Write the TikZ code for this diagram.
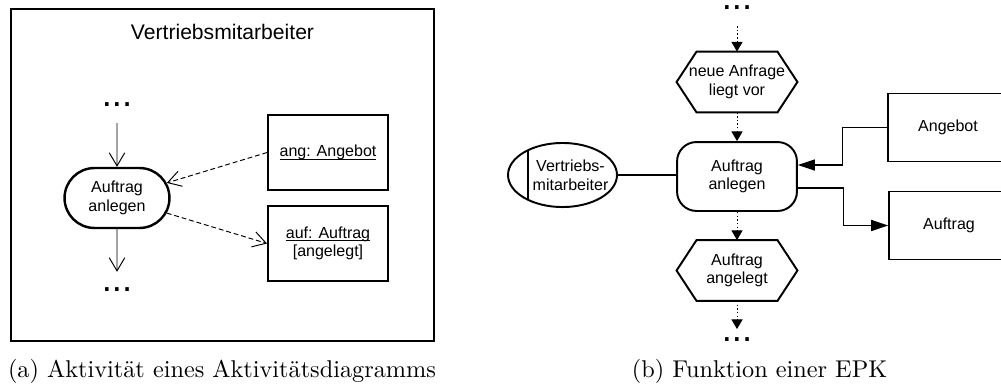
\documentclass[tikz,border=0pt]{standalone}
\usepackage{fontspec}
\newfontfamily\diafont{Liberation Sans}
\usetikzlibrary{positioning, calc, arrows.meta, shapes.geometric, shapes.misc}

% underlined object name
\newcommand{\objname}[1]{\setbox0\hbox{#1}\rlap{\rule[-1.3pt]{\wd0}{0.4pt}}\box0}

\begin{document}
\begin{tikzpicture}[x=0.412pt, y=-0.412pt,
    every node/.style={font=\diafont\fontsize{6.6}{7.7}\selectfont, align=center},
    caption/.style={font=\rmfamily\fontsize{10}{12}\selectfont, anchor=base, inner sep=0pt},
    dots/.style={font=\diafont\fontsize{15}{15}\selectfont, inner sep=0pt},
    lane/.style={draw, line width=0.7pt, minimum width=174.3pt, minimum height=136.8pt},
    activity/.style={rounded rectangle, draw, line width=1pt, minimum width=49.9pt, minimum height=24.7pt},
    object/.style={draw, line width=0.8pt, minimum width=49.4pt, minimum height=30.9pt},
    flow/.style={-{Straight Barb[length=5.4pt,width=6.4pt]}, line width=0.4pt},
    objflow/.style={flow, dash pattern=on 2pt off 1.2pt},
    function/.style={draw, rounded corners=8pt, line width=0.8pt, minimum width=49.4pt, minimum height=28.4pt},
    event/.style={minimum width=49.4pt, minimum height=24.7pt, inner sep=0pt},
    hexline/.style={line width=0.8pt},
    control/.style={dash pattern=on 0.6pt off 0.9pt, line width=0.4pt, -{Triangle[length=4pt,width=4.6pt]}},
    orgunit/.style={ellipse, draw, line width=0.8pt, minimum width=44.9pt, minimum height=26.4pt,
        path picture={\draw[line width=0.8pt] ([xshift=8.2pt]path picture bounding box.north west)
            -- ([xshift=8.2pt]path picture bounding box.south west);}},
    infobox/.style={draw, line width=0.8pt, minimum width=49.4pt, minimum height=28pt},
    assoc/.style={line width=0.45pt},
    assocarrow/.style={assoc, -{Triangle[length=7pt,width=4.6pt]}}]

    \useasboundingbox (0,0) rectangle (1001,387);

    % (a) activity in its partition
    \node[lane] (lane) at (222.5,175) {};
    \node[font=\diafont\fontsize{8.7}{10}\selectfont] (laneTitle) at (222.5,32) {Vertriebsmitarbeiter};

    \node[dots] (dotsA) at (117,105) {...};
    \node[activity] (aktivL) at (117,198) {Auftrag\\anlegen};
    \node[dots] (dotsB) at (117,290) {...};

    \node[object] (ang) at (328,152.5) {\objname{ang: Angebot}};
    \node[object] (auf) at (328,243.5) {\objname{auf: Auftrag}\\{}[angelegt]};

    \draw[flow, shorten <=6.5pt] (dotsA) -- (aktivL);
    \draw[flow, shorten >=6.5pt] (aktivL) -- (dotsB);
    \draw[objflow] (ang.west) -- (aktivL);
    \draw[objflow] (aktivL) -- (auf.west);

    \node[caption] (capA) at (222,377) {(a) Aktivität eines Aktivitätsdiagramms};

    % (b) function of the EPC
    \node[dots] (dotsC) at (737,8) {...};
    \node[event] (anfrage) at (737,82) {neue Anfrage\\liegt vor};
    \node[function] (aktivR) at (737,176.5) {Auftrag\\anlegen};
    \node[event] (angelegt) at (737,270.5) {Auftrag\\angelegt};
    \node[dots] (dotsD) at (737,340) {...};

    % hexagons around the events
    \foreach \n in {anfrage,angelegt}
        \draw[hexline] (\n.west) -- ($(\n.north west)+(20,0)$) -- ($(\n.north east)+(-20,0)$)
            -- (\n.east) -- ($(\n.south east)+(-20,0)$) -- ($(\n.south west)+(20,0)$) -- cycle;

    \draw[control, shorten <=6.5pt] (dotsC) -- (anfrage);
    \draw[control] (anfrage) -- (aktivR);
    \draw[control] (aktivR) -- (angelegt);
    \draw[control, shorten >=3.5pt] (angelegt) -- (dotsD);

    \node[orgunit] (mitarb) at (562.5,175) {};
    \node (mitarbText) at ($(mitarb)+(8,0)$) {Vertriebs-\\mitarbeiter};
    \draw[assoc] (mitarb.east) -- (mitarb.east -| aktivR.west);

    \node[infobox] (angebot) at (948,127.5) {Angebot};
    \node[infobox] (auftrag) at (949,225.5) {Auftrag};

    \draw[assocarrow] (angebot.west) -- ++(-45,0) |- ($(aktivR.east)+(0,-11.5)$);
    \draw[assocarrow] ($(aktivR.east)+(0,11.5)$) -- ++(46,0) |- (auftrag.west);

    \node[caption] (capB) at (759.5,377) {(b) Funktion einer EPK};
\end{tikzpicture}
\end{document}
